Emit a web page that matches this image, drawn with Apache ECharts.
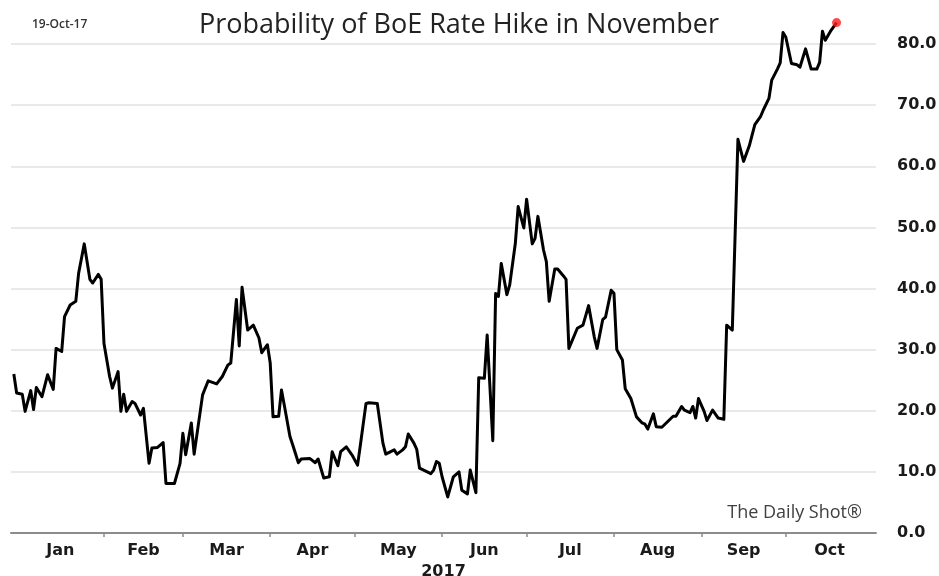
<!DOCTYPE html>
<html>
<head>
<meta charset="utf-8">
<title>Probability of BoE Rate Hike in November</title>
<script src="https://cdn.jsdelivr.net/npm/echarts@6/dist/echarts.min.js"></script>
<style>
  html, body { margin: 0; padding: 0; background: #ffffff; }
  #chart { width: 939px; height: 576px; }
</style>
</head>
<body>
<div id="chart"></div>
<script>
// Market-implied probability (%) of a Bank of England hike at the November meeting
const dates = [
  '2016-12-31','2017-01-01','2017-01-03','2017-01-04','2017-01-06','2017-01-07','2017-01-08','2017-01-10','2017-01-12','2017-01-14',
  '2017-01-15','2017-01-17','2017-01-18','2017-01-20','2017-01-22','2017-01-23','2017-01-25','2017-01-27','2017-01-28','2017-01-30',
  '2017-01-31','2017-02-01','2017-02-03','2017-02-04','2017-02-06','2017-02-07','2017-02-08','2017-02-09','2017-02-11','2017-02-12',
  '2017-02-14','2017-02-15','2017-02-17','2017-02-18','2017-02-20','2017-02-22','2017-02-23','2017-02-26','2017-02-28','2017-03-01',
  '2017-03-02','2017-03-04','2017-03-05','2017-03-08','2017-03-10','2017-03-13','2017-03-15','2017-03-17','2017-03-18','2017-03-20',
  '2017-03-21','2017-03-22','2017-03-24','2017-03-26','2017-03-28','2017-03-29','2017-03-31','2017-04-01','2017-04-02','2017-04-04',
  '2017-04-05','2017-04-06','2017-04-08','2017-04-09','2017-04-11','2017-04-12','2017-04-15','2017-04-17','2017-04-18','2017-04-20',
  '2017-04-22','2017-04-23','2017-04-25','2017-04-26','2017-04-28','2017-04-30','2017-05-02','2017-05-03','2017-05-05','2017-05-06',
  '2017-05-09','2017-05-11','2017-05-12','2017-05-15','2017-05-16','2017-05-18','2017-05-19','2017-05-20','2017-05-22','2017-05-23',
  '2017-05-24','2017-05-28','2017-05-29','2017-05-30','2017-05-31','2017-06-01','2017-06-03','2017-06-05','2017-06-07','2017-06-08',
  '2017-06-10','2017-06-11','2017-06-13','2017-06-14','2017-06-16','2017-06-17','2017-06-19','2017-06-20','2017-06-21','2017-06-22',
  '2017-06-24','2017-06-25','2017-06-27','2017-06-28','2017-06-30','2017-07-01','2017-07-03','2017-07-04','2017-07-05','2017-07-07',
  '2017-07-08','2017-07-09','2017-07-11','2017-07-12','2017-07-14','2017-07-15','2017-07-16','2017-07-18','2017-07-19','2017-07-21',
  '2017-07-23','2017-07-25','2017-07-26','2017-07-28','2017-07-29','2017-07-31','2017-08-01','2017-08-02','2017-08-04','2017-08-05',
  '2017-08-07','2017-08-09','2017-08-11','2017-08-12','2017-08-13','2017-08-15','2017-08-16','2017-08-18','2017-08-20','2017-08-22',
  '2017-08-23','2017-08-25','2017-08-26','2017-08-28','2017-08-29','2017-08-30','2017-08-31','2017-09-02','2017-09-03','2017-09-05',
  '2017-09-07','2017-09-09','2017-09-10','2017-09-12','2017-09-14','2017-09-16','2017-09-18','2017-09-20','2017-09-22','2017-09-23',
  '2017-09-25','2017-09-26','2017-09-28','2017-09-29','2017-09-30','2017-10-01','2017-10-03','2017-10-05','2017-10-06','2017-10-08',
  '2017-10-10','2017-10-12','2017-10-13','2017-10-14','2017-10-15','2017-10-17','2017-10-19'
];

const probability = [
  26.0, 22.9, 22.7, 19.9, 23.3, 20.2, 23.8, 22.3, 25.9, 23.5,
  30.2, 29.7, 35.4, 37.3, 37.9, 42.5, 47.3, 41.5, 40.9, 42.3,
  41.5, 31.0, 25.6, 23.7, 26.4, 19.9, 22.7, 19.9, 21.5, 21.2,
  19.3, 20.4, 11.4, 13.9, 14.0, 14.8, 8.1, 8.1, 11.4, 16.3,
  12.8, 18.0, 12.9, 22.6, 24.9, 24.4, 25.6, 27.5, 27.8, 38.2,
  30.6, 40.2, 33.2, 34.0, 31.9, 29.5, 30.8, 27.8, 19.0, 19.1,
  23.4, 20.9, 15.8, 14.4, 11.5, 12.1, 12.2, 11.5, 12.1, 9.0,
  9.2, 13.3, 11.0, 13.3, 14.1, 12.8, 11.1, 14.4, 21.2, 21.3,
  21.2, 14.7, 12.9, 13.6, 12.9, 13.6, 14.1, 16.2, 14.7, 13.7,
  10.6, 9.7, 10.3, 11.7, 11.4, 9.2, 5.9, 9.2, 10.0, 7.0,
  6.4, 10.3, 6.6, 25.4, 25.3, 32.4, 15.1, 39.2, 38.7, 44.1,
  39.0, 40.6, 47.4, 53.4, 49.9, 54.6, 47.3, 48.2, 51.8, 46.3,
  44.4, 37.9, 43.2, 43.2, 42.1, 41.5, 30.2, 32.4, 33.5, 34.0,
  37.2, 32.1, 30.2, 34.9, 35.3, 39.7, 39.2, 30.0, 28.3, 23.6,
  22.0, 19.0, 18.0, 17.8, 17.0, 19.5, 17.4, 17.3, 18.2, 19.1,
  19.1, 20.7, 20.1, 19.7, 20.7, 18.8, 22.0, 19.9, 18.4, 20.1,
  18.8, 18.6, 34.0, 33.2, 64.4, 60.8, 63.3, 66.8, 68.1, 69.2,
  71.1, 74.1, 75.9, 76.9, 81.9, 81.1, 76.8, 76.6, 76.2, 79.2,
  75.9, 75.9, 77.0, 82.1, 80.6, 82.2, 83.5
];

const monthNames = ['Jan', 'Feb', 'Mar', 'Apr', 'May', 'Jun', 'Jul', 'Aug', 'Sep', 'Oct'];
const year = 2017;
const titleText = 'Probability of BoE Rate Hike in November';
const asOfText = '19-Oct-17';
const sourceText = 'The Daily Shot\u00AE';

// dates become UTC millisecond timestamps on a linear axis
const toTime = s => {
  const p = s.split('-').map(Number);
  return Date.UTC(p[0], p[1] - 1, p[2]);
};
const monthStart = i => Date.UTC(year, i, 1);

// ticks on month boundaries, month names centred inside each month
const tickValues = monthNames.slice(1).map((_, i) => monthStart(i + 1));
const labelValues = monthNames.map((_, i) => (monthStart(i) + monthStart(i + 1)) / 2);

const seriesData = dates.map((d, i) => [toTime(d), probability[i]]);
const lastPoint = seriesData[seriesData.length - 1];

const boldLabel = {
  color: '#1a1a1a',
  fontFamily: 'DejaVu Sans',
  fontWeight: 'bold',
  fontSize: 16
};

const chart = echarts.init(document.getElementById('chart'), null, { renderer: 'canvas' });

chart.setOption({
  animation: false,
  backgroundColor: '#ffffff',
  grid: { left: 11, right: 63, top: 44, bottom: 43, outerBoundsMode: 'none' },
  xAxis: {
    type: 'value',
    min: Date.UTC(year - 1, 11, 30),
    max: Date.UTC(year, 10, 2),
    axisLine: { lineStyle: { color: '#8c8c8c', width: 2 } },
    axisTick: {
      show: true,
      customValues: tickValues,
      length: 4,
      lineStyle: { color: '#8c8c8c', width: 1.5 }
    },
    axisLabel: Object.assign({
      customValues: labelValues,
      formatter: v => monthNames[new Date(v).getUTCMonth()],
      margin: 10
    }, boldLabel),
    splitLine: { show: false },
    name: String(year),
    nameLocation: 'middle',
    nameGap: 29,
    nameTextStyle: Object.assign({}, boldLabel)
  },
  yAxis: {
    type: 'value',
    position: 'right',
    min: 0,
    max: 80,
    interval: 10,
    axisLine: { show: false },
    axisTick: { show: false },
    splitLine: { lineStyle: { color: '#e2e2e2', width: 1.5 } },
    axisLabel: Object.assign({
      formatter: v => v.toFixed(1),
      margin: 21
    }, boldLabel)
  },
  series: [
    {
      type: 'line',
      data: seriesData,
      showSymbol: false,
      clip: false,
      lineStyle: { color: '#000000', width: 3, join: 'round' },
      z: 3
    },
    {
      type: 'scatter',
      data: [lastPoint],
      symbol: 'circle',
      symbolSize: 9,
      clip: false,
      itemStyle: { color: '#ff1a1a' },
      z: 4
    }
  ],
  graphic: [
    {
      type: 'text',
      x: 459,
      y: 25,
      style: {
        text: titleText,
        fill: '#222222',
        font: '27px "Open Sans"',
        textAlign: 'center',
        textVerticalAlign: 'middle'
      }
    },
    {
      type: 'text',
      x: 32,
      y: 25,
      style: {
        text: asOfText,
        fill: '#333333',
        font: '600 12px "Open Sans"',
        textAlign: 'left',
        textVerticalAlign: 'middle'
      }
    },
    {
      type: 'text',
      x: 862,
      y: 513,
      style: {
        text: sourceText,
        fill: '#404040',
        font: '18px "Open Sans"',
        textAlign: 'right',
        textVerticalAlign: 'middle'
      }
    }
  ]
});
</script>
</body>
</html>
